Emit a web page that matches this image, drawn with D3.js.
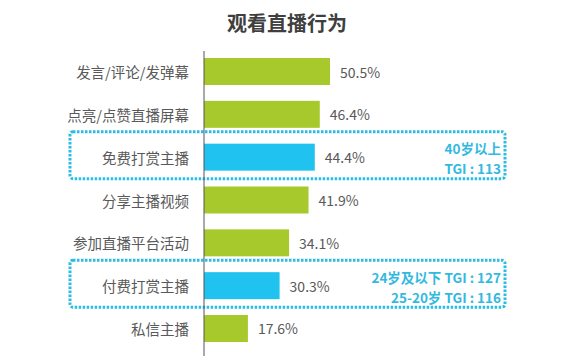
<!DOCTYPE html>
<html>
<head>
<meta charset="utf-8">
<script src="https://cdn.jsdelivr.net/npm/d3@7"></script>
<style>
  html, body { margin: 0; padding: 0; background: #fff; }
  svg { display: block; font-family: "Noto Sans CJK SC", "Noto Sans", sans-serif; }
</style>
</head>
<body>
<svg id="chart" width="576" height="356"></svg>
<script>
const title = "观看直播行为";
const categories = ["发言/评论/发弹幕", "点亮/点赞直播屏幕", "免费打赏主播", "分享主播视频", "参加直播平台活动", "付费打赏主播", "私信主播"];
const values = [50.5, 46.4, 44.4, 41.9, 34.1, 30.3, 17.6];
const highlighted = ["免费打赏主播", "付费打赏主播"];
const annotations = [
  { category: "免费打赏主播", lines: ["40岁以上", "TGI : 113"] },
  { category: "付费打赏主播", lines: ["24岁及以下 TGI : 127", "25-20岁 TGI : 116"] }
];

const svg = d3.select("#chart");
const axisX = 204;

const x = d3.scaleLinear().domain([0, 100]).range([axisX, axisX + 249.5]);
const y = d3.scaleBand().domain(categories).range([50, 350]).paddingInner(0.37).paddingOuter(0.187);

// title
svg.append("text")
  .attr("x", 287).attr("y", 22)
  .attr("text-anchor", "middle").attr("dominant-baseline", "central")
  .attr("font-size", 20).attr("font-weight", 700).attr("fill", "#3f3f3f")
  .text(title);

// dotted boxes
const boxLeft = 70, boxRight = 505;
svg.selectAll("rect.box").data(annotations).enter().append("rect")
  .attr("class", "box")
  .attr("x", boxLeft)
  .attr("y", d => y(d.category) - 12)
  .attr("width", boxRight - boxLeft)
  .attr("height", y.bandwidth() + 20)
  .attr("rx", 3)
  .attr("fill", "none")
  .attr("stroke", "#2cbde3")
  .attr("stroke-width", 3)
  .attr("stroke-dasharray", "2.5 1.5");

// bars
svg.selectAll("rect.bar").data(categories).enter().append("rect")
  .attr("class", "bar")
  .attr("x", x(0))
  .attr("y", d => y(d))
  .attr("width", (d, i) => x(values[i]) - x(0))
  .attr("height", y.bandwidth())
  .attr("fill", d => highlighted.includes(d) ? "#20c3ef" : "#a8c92c");

// axis line
svg.append("line")
  .attr("x1", axisX).attr("x2", axisX)
  .attr("y1", 51).attr("y2", 356)
  .attr("stroke", "#555").attr("stroke-width", 1);

// category labels
svg.selectAll("text.cat").data(categories).enter().append("text")
  .attr("class", "cat")
  .attr("x", axisX - 15)
  .attr("y", d => y(d) + y.bandwidth() / 2)
  .attr("text-anchor", "end").attr("dominant-baseline", "central")
  .attr("font-size", 14.5).attr("fill", "#595959")
  .text(d => d);

// value labels
svg.selectAll("text.val").data(categories).enter().append("text")
  .attr("class", "val")
  .attr("x", (d, i) => x(values[i]) + 10)
  .attr("y", d => y(d) + y.bandwidth() / 2)
  .attr("dominant-baseline", "central")
  .attr("font-size", 14).attr("fill", "#595959")
  .text((d, i) => values[i].toFixed(1) + "%");

// annotation texts
annotations.forEach(a => {
  const cy = y(a.category) + y.bandwidth() / 2;
  a.lines.forEach((line, j) => {
    svg.append("text")
      .attr("x", 501)
      .attr("y", cy - 9 + j * 20)
      .attr("text-anchor", "end").attr("dominant-baseline", "central")
      .attr("font-size", 13.5).attr("font-weight", 700).attr("fill", "#33b9e0")
      .text(line);
  });
});
</script>
</body>
</html>
